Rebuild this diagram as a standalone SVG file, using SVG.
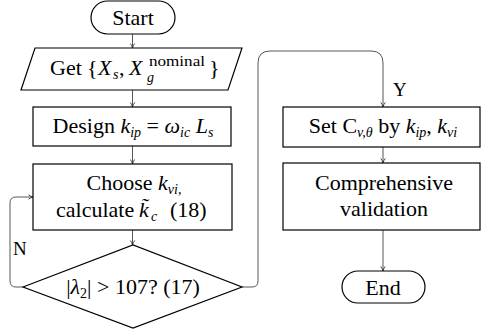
<svg xmlns="http://www.w3.org/2000/svg" width="481" height="332" viewBox="0 0 481 332">
  <defs>
    <marker id="tip" markerWidth="6" markerHeight="6" refX="5" refY="3" orient="auto" markerUnits="userSpaceOnUse">
      <path d="M0.5,0.8 Q2.5,2.4 5,3 Q2.5,3.6 0.5,5.2" fill="none" stroke="#333" stroke-width="0.9"/>
    </marker>
    <style>
      .box { fill: #fff; stroke: #000; stroke-width: 1.2; }
      .conn { fill: none; stroke: #444; stroke-width: 0.9; marker-end: url(#tip); }
      text { font-family: "Liberation Serif", "Times New Roman", serif; font-size: 22px; fill: #000; }
      .c { text-anchor: middle; }
      .i { font-style: italic; }
      .sub { font-size: 14px; font-style: italic; }
      .subr { font-size: 14px; }
      .lbl { font-size: 19px; }
    </style>
  </defs>

  <!-- connectors -->
  <g id="connectors">
    <path class="conn" d="M132.5,34 V48"/>
    <path class="conn" d="M132.5,90 V107"/>
    <path class="conn" d="M132.5,146 V164"/>
    <path class="conn" d="M132.5,230 V245"/>
    <path class="conn" d="M23,287 H16 Q10,287 10,281 V203 Q10,197 16,197 H33"/>
    <path class="conn" d="M242,287 H252 Q258,287 258,281 V63 Q258,51 270,51 H371 Q383,51 383,63 V107"/>
    <path class="conn" d="M383,147 V163"/>
    <path class="conn" d="M383,230 V271"/>
    <text class="lbl" x="13" y="255">N</text>
    <text class="lbl" x="393" y="96">Y</text>
  </g>

  <g id="start">
    <rect class="box" x="91" y="1" width="84" height="33" rx="16.5"/>
    <text class="c" x="133" y="25">Start</text>
  </g>

  <g id="get">
    <polygon class="box" points="35,48 242,48 228,90 21,90"/>
    <!-- X_g carries a stacked superscript, so its pieces get absolute x -->
    <text x="50" y="75">Get<tspan x="87">{</tspan><tspan class="i" x="98">X</tspan><tspan class="sub" x="113" y="79">s</tspan><tspan x="119" y="75">,</tspan><tspan class="i" x="129">X</tspan><tspan class="sub" x="147" y="82">g</tspan><tspan class="subr" x="149" y="66" textLength="56" lengthAdjust="spacingAndGlyphs">nominal</tspan><tspan x="209" y="75">}</tspan></text>
  </g>

  <g id="design">
    <rect class="box" x="33" y="107" width="198" height="39"/>
    <text class="c" x="133" y="133">Design <tspan class="i">k</tspan><tspan class="sub" dy="4">ip</tspan><tspan dy="-4"> = </tspan><tspan class="i">ω</tspan><tspan class="sub" dy="4">ic</tspan><tspan dy="-4"> </tspan><tspan class="i">L</tspan><tspan class="sub" dy="4">s</tspan></text>
  </g>

  <g id="choose">
    <rect class="box" x="33" y="164" width="199" height="66"/>
    <text class="c" x="134" y="190">Choose <tspan class="i">k</tspan><tspan class="sub" dy="4">vi,</tspan></text>
    <text x="56" y="217">calculate<tspan class="i" x="139">k&#x303;</tspan><tspan class="sub" x="151" y="221">c</tspan><tspan x="170" y="217">(18)</tspan></text>
  </g>

  <g id="check">
    <polygon class="box" points="23,287 133,245 242,287 133,328"/>
    <text class="c" x="133" y="294">|<tspan class="i">λ</tspan><tspan class="subr" dy="4">2</tspan><tspan dy="-4">| &gt; 107?  (17)</tspan></text>
  </g>

  <g id="set">
    <rect class="box" x="283" y="107" width="197" height="40"/>
    <text class="c" x="383" y="133">Set C<tspan class="sub" dy="4">v,θ</tspan><tspan dy="-4"> by </tspan><tspan class="i">k</tspan><tspan class="sub" dy="4">ip</tspan><tspan dy="-4">, </tspan><tspan class="i">k</tspan><tspan class="sub" dy="4">vi</tspan></text>
  </g>

  <g id="validation">
    <rect class="box" x="283" y="163" width="197" height="67"/>
    <text class="c" x="384" y="190">Comprehensive</text>
    <text class="c" x="384" y="216">validation</text>
  </g>

  <g id="end">
    <rect class="box" x="342" y="271" width="83" height="32" rx="16"/>
    <text class="c" x="383" y="295">End</text>
  </g>
</svg>
